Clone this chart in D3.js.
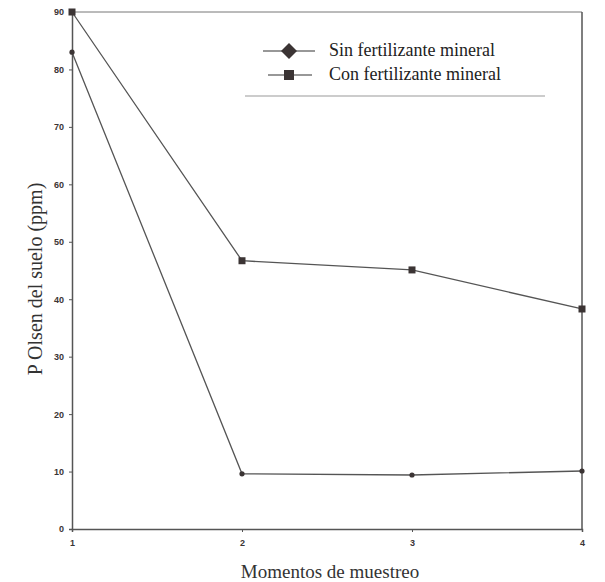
<!DOCTYPE html>
<html>
<head>
<meta charset="utf-8">
<script src="https://cdn.jsdelivr.net/npm/d3@7"></script>
<style>
  body { margin: 0; background: #fff; }
  svg { display: block; }
</style>
</head>
<body>
<svg id="chart" width="605" height="582"></svg>
<script>
const momentos = [1, 2, 3, 4];
const sinFert = [83, 9.6, 9.4, 10.1];
const conFert = [90, 46.7, 45.1, 38.3];
const yTicks = [0, 10, 20, 30, 40, 50, 60, 70, 80, 90];
const seriesNames = ["Sin fertilizante mineral", "Con fertilizante mineral"];

const margin = {top: 12, right: 23, bottom: 53, left: 72};
const width = 605 - margin.left - margin.right;
const height = 582 - margin.top - margin.bottom;
const ink = "#3b3434";
const serif = "'Liberation Serif', 'Times New Roman', serif";

const svg = d3.select("#chart");
const g = svg.append("g").attr("transform", `translate(${margin.left}, ${margin.top})`);

const x = d3.scaleLinear().domain([1, 4]).range([0, width]);
const y = d3.scaleLinear().domain([0, 90]).range([height, 0]);

// frame (top and right)
g.append("line").attr("x1", 0).attr("x2", width).attr("y1", 0).attr("y2", 0)
  .attr("stroke", "#777").attr("stroke-width", 1);
g.append("line").attr("x1", width).attr("x2", width).attr("y1", 0).attr("y2", height)
  .attr("stroke", "#555").attr("stroke-width", 1.5);

const yAxis = g.append("g")
  .call(d3.axisLeft(y).tickValues(yTicks).tickSize(3).tickPadding(5));
const xAxis = g.append("g")
  .attr("transform", `translate(0, ${height})`)
  .call(d3.axisBottom(x).tickValues(momentos).tickFormat(d3.format("d")).tickSize(3).tickPadding(8));

[yAxis, xAxis].forEach((a) => {
  a.select(".domain").attr("stroke", "#555").attr("stroke-width", 1.5);
  a.selectAll(".tick line").attr("stroke", "#555");
  a.selectAll("text")
    .attr("fill", ink)
    .style("font-family", "'Liberation Sans', Arial, sans-serif")
    .style("font-size", "9px")
    .style("font-weight", "bold");
});

const line = d3.line().x((d, i) => x(momentos[i])).y((d) => y(d));

g.append("path").datum(sinFert).attr("d", line)
  .attr("fill", "none").attr("stroke", "#555").attr("stroke-width", 1.3);
g.append("path").datum(conFert).attr("d", line)
  .attr("fill", "none").attr("stroke", "#555").attr("stroke-width", 1.3);

g.selectAll(".pt-sin").data(sinFert).join("circle")
  .attr("class", "pt-sin")
  .attr("cx", (d, i) => x(momentos[i]))
  .attr("cy", (d) => y(d))
  .attr("r", 2.6)
  .attr("fill", ink);

g.selectAll(".pt-con").data(conFert).join("rect")
  .attr("class", "pt-con")
  .attr("x", (d, i) => x(momentos[i]) - 3.5)
  .attr("y", (d) => y(d) - 3.5)
  .attr("width", 7)
  .attr("height", 7)
  .attr("fill", ink);

// legend
const legend = svg.append("g");
legend.append("line").attr("x1", 245).attr("x2", 545).attr("y1", 96).attr("y2", 96)
  .attr("stroke", "#999").attr("stroke-width", 1);

seriesNames.forEach((name, i) => {
  const ly = 51 + i * 24;
  legend.append("line")
    .attr("x1", i === 0 ? 263 : 268).attr("x2", i === 0 ? 315 : 312)
    .attr("y1", ly).attr("y2", ly)
    .attr("stroke", "#333").attr("stroke-width", 1.2);
  if (i === 0) {
    legend.append("path")
      .attr("d", "M0,-8L8,0L0,8L-8,0Z")
      .attr("transform", `translate(289, ${ly})`)
      .attr("fill", ink);
  } else {
    legend.append("rect")
      .attr("x", 284).attr("y", ly - 5).attr("width", 10).attr("height", 10)
      .attr("fill", ink);
  }
  legend.append("text")
    .attr("x", 329).attr("y", ly + 5)
    .attr("fill", "#222")
    .style("font-family", serif)
    .style("font-size", "18px")
    .text(name);
});

// axis titles
svg.append("text")
  .attr("x", 330).attr("y", 578)
  .attr("text-anchor", "middle")
  .attr("fill", "#333")
  .style("font-family", serif)
  .style("font-size", "19px")
  .text("Momentos de muestreo");

svg.append("text")
  .attr("transform", "translate(42, 279) rotate(-90)")
  .attr("text-anchor", "middle")
  .attr("fill", "#333")
  .style("font-family", serif)
  .style("font-size", "20px")
  .text("P Olsen del suelo (ppm)");
</script>
</body>
</html>
